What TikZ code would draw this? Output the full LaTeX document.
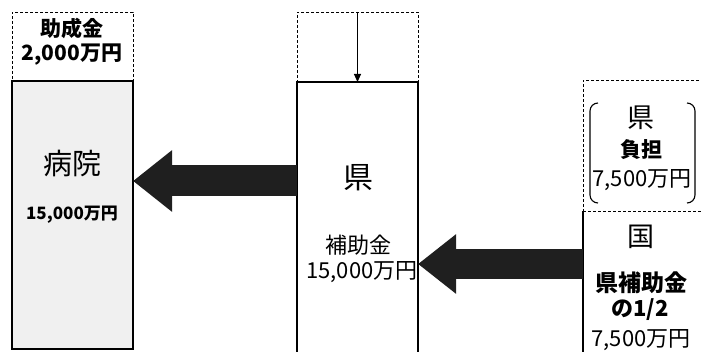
\documentclass[tikz,border=0pt]{standalone}
\usepackage{fontspec}
\setmainfont{Noto Sans CJK JP}
\usetikzlibrary{arrows.meta}
\newcommand{\fs}[1]{\fontsize{#1}{#1}\selectfont}
\begin{document}
\begin{tikzpicture}[x=1pt,y=-1pt,
  box/.style={draw, line width=1.1pt, inner sep=0pt, outer sep=0pt, anchor=north west},
  dbox/.style={box, dash pattern=on 3pt off 2pt, line width=0.9pt},
  bigarrow/.style={draw=black!88, line width=31pt, -{Triangle[length=39pt,width=59pt]}},
  lbl/.style={inner sep=0pt, text=black},
  brk/.style={line width=1.1pt}]
\useasboundingbox (0,0) rectangle (701,352);
\clip (0,0) rectangle (701,352);

% hospital column
\node[dbox, minimum width=121pt, minimum height=69pt] (hospTop) at (12,12) {};
\node[box, fill=black!6, minimum width=121pt, minimum height=268pt] (hosp) at (12,81) {};
\draw[dash pattern=on 3pt off 2pt, line width=0.9pt] (hosp.north west) -- (hosp.north east);

% prefecture column
\node[dbox, minimum width=121pt, minimum height=70pt] (kenTop) at (297,12) {};
\node[box, fill=white, minimum width=121pt, minimum height=290pt] (ken) at (297,82) {};

% state column
\node[dbox, minimum width=140pt, minimum height=131pt] (kuniTop) at (583,80) {};
\node[inner sep=0pt, outer sep=0pt, anchor=north west, minimum width=140pt, minimum height=160pt] (kuni) at (583,211) {};
\draw[line width=1.1pt] (kuni.north west) -- (kuni.south west);

% brackets
\draw[brk] (598,103) arc[start angle=-90, end angle=-180, radius=8] -- (590,195) arc[start angle=180, end angle=90, radius=8];
\draw[brk] (687,103) arc[start angle=-90, end angle=0, radius=8] -- (695,195) arc[start angle=0, end angle=90, radius=8];

% arrows
\draw[bigarrow] (ken.west |- 0,181) -- (hosp.east |- 0,181);
\draw[bigarrow, line width=30pt, -{Triangle[length=38pt,width=57pt]}] (kuni.west |- 0,264) -- (ken.east |- 0,264);
\draw[line width=1pt, -{Triangle[length=8pt,width=7pt]}] (kenTop.north) -- (ken.north);

% texts
\node[lbl, font=\fs{21}\bfseries] (t1) at (72,29) {助成金};
\node[lbl, font=\fs{21}\bfseries] (t2) at (72,55) {2,000万円};
\node[lbl, font=\fs{29}] (t3) at (72,163) {病院};
\node[lbl, font=\fs{17}\bfseries] (t4) at (72,215) {15,000万円};

\node[lbl, font=\fs{30}] (t5) at (358,178) {県};
\node[lbl, font=\fs{22}] (t6) at (358,245) {補助金};
\node[lbl, font=\fs{22}] (t7) at (362,272) {15,000万円};

\node[lbl, font=\fs{27}] (t8) at (641,118) {県};
\node[lbl, font=\fs{21}\bfseries] (t9) at (641,150) {負担};
\node[lbl, font=\fs{22}] (t10) at (642,180) {7,500万円};

\node[lbl, font=\fs{27}] (t11) at (641,237) {国};
\node[lbl, font=\fs{23}\bfseries] (t12) at (641,283) {県補助金};
\node[lbl, font=\fs{22}\bfseries] (t13) at (640,310) {の1/2};
\node[lbl, font=\fs{22}] (t14) at (641,340) {7,500万円};
\end{tikzpicture}
\end{document}
